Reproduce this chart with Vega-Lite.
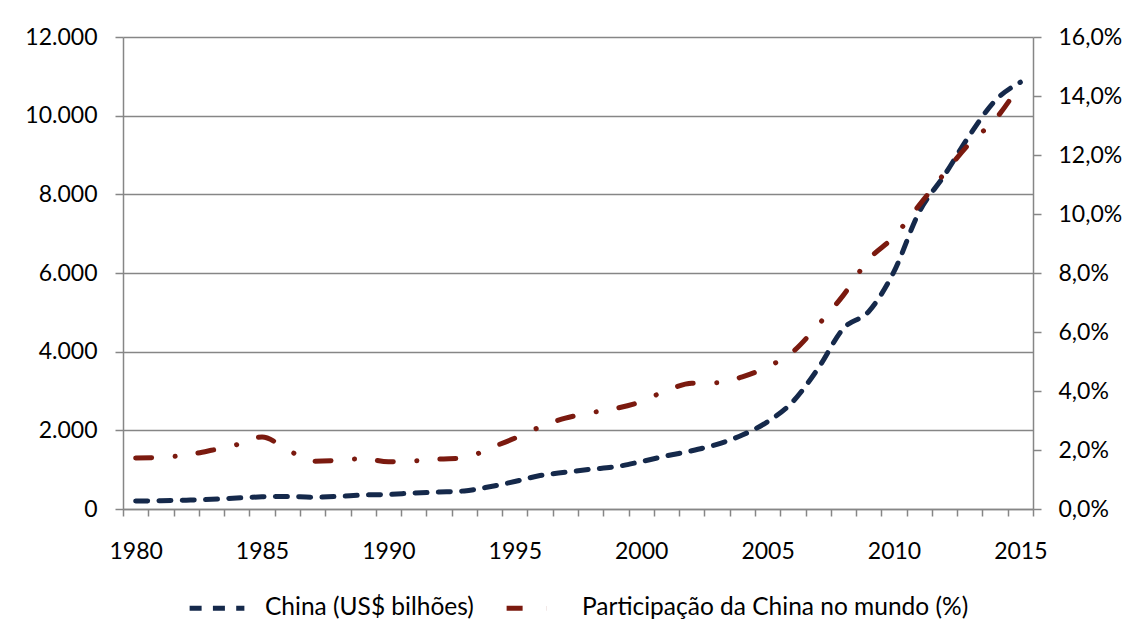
{
  "$schema": "https://vega.github.io/schema/vega-lite/v6.json",
  "width": 910,
  "height": 472,
  "autosize": {"type": "none"},
  "padding": {"left": 123, "top": 37, "right": 94, "bottom": 135},
  "background": "white",
  "config": {
    "font": "Lato",
    "view": {"stroke": null},
    "axis": {
      "labelFont": "Lato",
      "labelFontSize": 23,
      "labelColor": "#000000",
      "domainColor": "#868686",
      "tickColor": "#868686",
      "domainWidth": 1.5,
      "tickWidth": 1.5,
      "gridColor": "#868686",
      "gridWidth": 1.5,
      "title": null
    },
    "legend": {
      "orient": "none", "legendX": 64, "legendY": 541, "direction": "horizontal", "title": null,
      "labelFont": "Lato", "labelFontSize": 24.5, "labelColor": "#000000", "labelLimit": 0,
      "symbolType": "stroke", "symbolStrokeWidth": 5, "symbolSize": 3000,
      "labelOffset": 18, "columnPadding": 22
    }
  },
  "datasets": {
    "pib": [
      {"ano": 1980, "serie": "China (US$ bilhões)", "valor": 205},
      {"ano": 1981, "serie": "China (US$ bilhões)", "valor": 210},
      {"ano": 1982, "serie": "China (US$ bilhões)", "valor": 225},
      {"ano": 1983, "serie": "China (US$ bilhões)", "valor": 245},
      {"ano": 1984, "serie": "China (US$ bilhões)", "valor": 280},
      {"ano": 1985, "serie": "China (US$ bilhões)", "valor": 310},
      {"ano": 1986, "serie": "China (US$ bilhões)", "valor": 320},
      {"ano": 1987, "serie": "China (US$ bilhões)", "valor": 300},
      {"ano": 1988, "serie": "China (US$ bilhões)", "valor": 320},
      {"ano": 1989, "serie": "China (US$ bilhões)", "valor": 355},
      {"ano": 1990, "serie": "China (US$ bilhões)", "valor": 370},
      {"ano": 1991, "serie": "China (US$ bilhões)", "valor": 405},
      {"ano": 1992, "serie": "China (US$ bilhões)", "valor": 430},
      {"ano": 1993, "serie": "China (US$ bilhões)", "valor": 460},
      {"ano": 1994, "serie": "China (US$ bilhões)", "valor": 565},
      {"ano": 1995, "serie": "China (US$ bilhões)", "valor": 700},
      {"ano": 1996, "serie": "China (US$ bilhões)", "valor": 850},
      {"ano": 1997, "serie": "China (US$ bilhões)", "valor": 935},
      {"ano": 1998, "serie": "China (US$ bilhões)", "valor": 1010},
      {"ano": 1999, "serie": "China (US$ bilhões)", "valor": 1075},
      {"ano": 2000, "serie": "China (US$ bilhões)", "valor": 1205},
      {"ano": 2001, "serie": "China (US$ bilhões)", "valor": 1350},
      {"ano": 2002, "serie": "China (US$ bilhões)", "valor": 1480},
      {"ano": 2003, "serie": "China (US$ bilhões)", "valor": 1645},
      {"ano": 2004, "serie": "China (US$ bilhões)", "valor": 1880},
      {"ano": 2005, "serie": "China (US$ bilhões)", "valor": 2220},
      {"ano": 2006, "serie": "China (US$ bilhões)", "valor": 2730},
      {"ano": 2007, "serie": "China (US$ bilhões)", "valor": 3575},
      {"ano": 2008, "serie": "China (US$ bilhões)", "valor": 4590},
      {"ano": 2009, "serie": "China (US$ bilhões)", "valor": 5020},
      {"ano": 2010, "serie": "China (US$ bilhões)", "valor": 6035},
      {"ano": 2011, "serie": "China (US$ bilhões)", "valor": 7555},
      {"ano": 2012, "serie": "China (US$ bilhões)", "valor": 8490},
      {"ano": 2013, "serie": "China (US$ bilhões)", "valor": 9510},
      {"ano": 2014, "serie": "China (US$ bilhões)", "valor": 10380},
      {"ano": 2015, "serie": "China (US$ bilhões)", "valor": 10850}
    ],
    "part": [
      {"ano": 1980, "serie": "Participação da China no mundo (%)", "valor": 1.73},
      {"ano": 1981, "serie": "Participação da China no mundo (%)", "valor": 1.75},
      {"ano": 1982, "serie": "Participação da China no mundo (%)", "valor": 1.83},
      {"ano": 1983, "serie": "Participação da China no mundo (%)", "valor": 1.99},
      {"ano": 1984, "serie": "Participação da China no mundo (%)", "valor": 2.18},
      {"ano": 1985, "serie": "Participação da China no mundo (%)", "valor": 2.44},
      {"ano": 1986, "serie": "Participação da China no mundo (%)", "valor": 2.02},
      {"ano": 1987, "serie": "Participação da China no mundo (%)", "valor": 1.62},
      {"ano": 1988, "serie": "Participação da China no mundo (%)", "valor": 1.65},
      {"ano": 1989, "serie": "Participação da China no mundo (%)", "valor": 1.71},
      {"ano": 1990, "serie": "Participação da China no mundo (%)", "valor": 1.60},
      {"ano": 1991, "serie": "Participação da China no mundo (%)", "valor": 1.63},
      {"ano": 1992, "serie": "Participação da China no mundo (%)", "valor": 1.69},
      {"ano": 1993, "serie": "Participação da China no mundo (%)", "valor": 1.73},
      {"ano": 1994, "serie": "Participação da China no mundo (%)", "valor": 2.06},
      {"ano": 1995, "serie": "Participação da China no mundo (%)", "valor": 2.40},
      {"ano": 1996, "serie": "Participação da China no mundo (%)", "valor": 2.78},
      {"ano": 1997, "serie": "Participação da China no mundo (%)", "valor": 3.08},
      {"ano": 1998, "serie": "Participação da China no mundo (%)", "valor": 3.26},
      {"ano": 1999, "serie": "Participação da China no mundo (%)", "valor": 3.41},
      {"ano": 2000, "serie": "Participação da China no mundo (%)", "valor": 3.64},
      {"ano": 2001, "serie": "Participação da China no mundo (%)", "valor": 4.02},
      {"ano": 2002, "serie": "Participação da China no mundo (%)", "valor": 4.26},
      {"ano": 2003, "serie": "Participação da China no mundo (%)", "valor": 4.28},
      {"ano": 2004, "serie": "Participação da China no mundo (%)", "valor": 4.48},
      {"ano": 2005, "serie": "Participação da China no mundo (%)", "valor": 4.82},
      {"ano": 2006, "serie": "Participação da China no mundo (%)", "valor": 5.33},
      {"ano": 2007, "serie": "Participação da China no mundo (%)", "valor": 6.24},
      {"ano": 2008, "serie": "Participação da China no mundo (%)", "valor": 7.25},
      {"ano": 2009, "serie": "Participação da China no mundo (%)", "valor": 8.46},
      {"ano": 2010, "serie": "Participação da China no mundo (%)", "valor": 9.23},
      {"ano": 2011, "serie": "Participação da China no mundo (%)", "valor": 10.30},
      {"ano": 2012, "serie": "Participação da China no mundo (%)", "valor": 11.38},
      {"ano": 2013, "serie": "Participação da China no mundo (%)", "valor": 12.40},
      {"ano": 2014, "serie": "Participação da China no mundo (%)", "valor": 13.20},
      {"ano": 2015, "serie": "Participação da China no mundo (%)", "valor": 14.40}
    ]
  },
  "encoding": {
    "x": {
      "field": "ano",
      "type": "quantitative",
      "scale": {"domain": [1979.5, 2015.5], "nice": false, "zero": false},
      "axis": {
        "values": [1979.5, 1980.5, 1981.5, 1982.5, 1983.5, 1984.5, 1985.5, 1986.5, 1987.5, 1988.5, 1989.5, 1990.5, 1991.5, 1992.5, 1993.5, 1994.5, 1995.5, 1996.5, 1997.5, 1998.5, 1999.5, 2000.5, 2001.5, 2002.5, 2003.5, 2004.5, 2005.5, 2006.5, 2007.5, 2008.5, 2009.5, 2010.5, 2011.5, 2012.5, 2013.5, 2014.5, 2015.5],
        "labelExpr": "(datum.value + 0.5) % 5 == 0 ? format(datum.value + 0.5, 'd') : ''",
        "labelOffset": 12.64,
        "labelFlush": false,
        "labelOverlap": false,
        "labelBound": false,
        "tickSize": 7,
        "labelPadding": 24,
        "grid": false
      }
    },
    "color": {
      "field": "serie",
      "type": "nominal",
      "scale": {"domain": ["China (US$ bilhões)", "Participação da China no mundo (%)"], "range": ["#15294b", "#7b1a0f"]}
    },
    "strokeDash": {
      "field": "serie",
      "type": "nominal",
      "scale": {"domain": ["China (US$ bilhões)", "Participação da China no mundo (%)"], "range": [[12, 11.3], [16, 23.5, 0.1, 23]]}
    }
  },
  "layer": [
    {
      "data": {"name": "pib"},
      "mark": {"type": "line", "strokeWidth": 5, "strokeCap": "round", "interpolate": "monotone"},
      "encoding": {
        "y": {
          "field": "valor",
          "type": "quantitative",
          "scale": {"domain": [0, 12000], "nice": false},
          "axis": {
            "orient": "left",
            "values": [0, 2000, 4000, 6000, 8000, 10000, 12000],
            "labelExpr": "replace(format(datum.value, ','), ',', '.')",
            "grid": true,
            "tickSize": 8,
            "labelPadding": 18
          }
        }
      }
    },
    {
      "data": {"name": "part"},
      "mark": {"type": "line", "strokeWidth": 5, "strokeCap": "round", "interpolate": "monotone"},
      "encoding": {
        "y": {
          "field": "valor",
          "type": "quantitative",
          "scale": {"domain": [0, 16], "nice": false},
          "axis": {
            "orient": "right",
            "values": [0, 2, 4, 6, 8, 10, 12, 14, 16],
            "labelExpr": "replace(format(datum.value, '.1f'), '.', ',') + '%'",
            "grid": false,
            "tickSize": 8,
            "labelPadding": 17
          }
        }
      }
    }
  ],
  "resolve": {"scale": {"y": "independent"}}
}
